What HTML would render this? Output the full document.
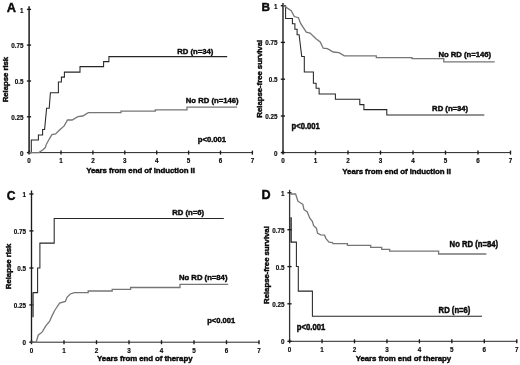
<!DOCTYPE html>
<html><head><meta charset="utf-8"><title>Figure</title>
<style>
html,body{margin:0;padding:0;background:#fff;}
body{width:520px;height:365px;overflow:hidden;}
svg{display:block;position:absolute;left:0;top:0;will-change:transform;}
svg text{font-family:"Liberation Sans",sans-serif;font-weight:bold;fill:#0a0a0a;stroke:#0a0a0a;stroke-width:0.42px;stroke-linejoin:round;}
svg text.t{stroke-width:0.15px;}
</style></head><body>
<svg width="520" height="365" viewBox="0 0 520 365">
<rect width="520" height="365" fill="#fff"/>
<line x1="29.1" y1="6.3" x2="29.1" y2="153.6" stroke="#1a1a1a" stroke-width="1.5"/>
<line x1="28.1" y1="152.6" x2="253.0" y2="152.6" stroke="#1a1a1a" stroke-width="0.95"/>
<line x1="29.10" y1="150.6" x2="29.10" y2="154.6" stroke="#1a1a1a" stroke-width="1.35"/>
<text x="29.10" y="163.2" font-size="6.3" class="t" text-anchor="middle">0</text>
<line x1="61.00" y1="150.6" x2="61.00" y2="154.6" stroke="#1a1a1a" stroke-width="1.35"/>
<text x="61.00" y="163.2" font-size="6.3" class="t" text-anchor="middle">1</text>
<line x1="92.90" y1="150.6" x2="92.90" y2="154.6" stroke="#1a1a1a" stroke-width="1.35"/>
<text x="92.90" y="163.2" font-size="6.3" class="t" text-anchor="middle">2</text>
<line x1="124.80" y1="150.6" x2="124.80" y2="154.6" stroke="#1a1a1a" stroke-width="1.35"/>
<text x="124.80" y="163.2" font-size="6.3" class="t" text-anchor="middle">3</text>
<line x1="156.70" y1="150.6" x2="156.70" y2="154.6" stroke="#1a1a1a" stroke-width="1.35"/>
<text x="156.70" y="163.2" font-size="6.3" class="t" text-anchor="middle">4</text>
<line x1="188.60" y1="150.6" x2="188.60" y2="154.6" stroke="#1a1a1a" stroke-width="1.35"/>
<text x="188.60" y="163.2" font-size="6.3" class="t" text-anchor="middle">5</text>
<line x1="220.50" y1="150.6" x2="220.50" y2="154.6" stroke="#1a1a1a" stroke-width="1.35"/>
<text x="220.50" y="163.2" font-size="6.3" class="t" text-anchor="middle">6</text>
<line x1="252.40" y1="150.6" x2="252.40" y2="154.6" stroke="#1a1a1a" stroke-width="1.35"/>
<text x="252.40" y="163.2" font-size="6.3" class="t" text-anchor="middle">7</text>
<line x1="26.900000000000002" y1="9.4" x2="31.1" y2="9.4" stroke="#1a1a1a" stroke-width="1.35"/>
<text x="23.5" y="12.6" font-size="6.3" class="t" text-anchor="end">1</text>
<line x1="26.900000000000002" y1="45.1" x2="31.1" y2="45.1" stroke="#1a1a1a" stroke-width="1.35"/>
<text x="23.5" y="48.300000000000004" font-size="6.3" class="t" text-anchor="end">0.75</text>
<line x1="26.900000000000002" y1="81" x2="31.1" y2="81" stroke="#1a1a1a" stroke-width="1.35"/>
<text x="23.5" y="84.19999999999999" font-size="6.3" class="t" text-anchor="end">0.5</text>
<line x1="26.900000000000002" y1="116.8" x2="31.1" y2="116.8" stroke="#1a1a1a" stroke-width="1.35"/>
<text x="23.5" y="119.99999999999999" font-size="6.3" class="t" text-anchor="end">0.25</text>
<line x1="26.900000000000002" y1="152.6" x2="31.1" y2="152.6" stroke="#1a1a1a" stroke-width="1.35"/>
<text x="23.5" y="155.79999999999998" font-size="6.3" class="t" text-anchor="end">0</text>
<path d="M29.3,152.6 L31.3,152.6 L31.3,139.9 L38.4,139.9 L38.4,135.0 L42.6,135.0 L42.6,129.4 L44.6,129.4 L46.6,108.2 L49.2,108.2 L50.4,92.8 L58.4,92.8 L58.4,82.0 L61.4,82.0 L61.4,77.1 L64.4,77.1 L64.4,72.1 L80.0,72.1 L80.0,66.6 L103.6,66.6 L103.6,61.6 L108.9,61.6 L108.9,56.6 L227.2,56.6" fill="none" stroke="#262626" stroke-width="1.05"/>
<path d="M29.3,152.6 L38.9,152.6 L43.2,149.5 L45.3,147.6 L46.3,144.4 L49.4,138.8 L51.9,134.6 L55.6,133.9 L59.3,130.2 L64.2,125.9 L67.5,120.0 L72.2,120.0 L77.8,116.6 L82.7,116.0 L88.3,112.6 L121.0,112.6 L121.0,111.1 L155.3,111.1 L155.3,109.8 L187.0,109.8 L187.0,107.2 L237.0,107.2" fill="none" stroke="#767676" stroke-width="1.3"/>
<text x="6.8" y="11.6" font-size="12.8">A</text>
<text transform="translate(177.30,54.10) scale(1,1.0)" font-size="7.7">RD (n=34)</text>
<text transform="translate(185.80,102.50) scale(1,1.0)" font-size="7.7">No RD (n=146)</text>
<text transform="translate(197.70,141.90) scale(1,1.0)" font-size="7.7">p&lt;0.001</text>
<text x="140.5" y="173.4" font-size="7.9" letter-spacing="-0.08" text-anchor="middle">Years from end of induction II</text>
<text transform="translate(8.2,79.6) rotate(-90)" font-size="7.9" letter-spacing="-0.08" text-anchor="middle">Relapse risk</text>
<line x1="283.0" y1="3.1" x2="283.0" y2="153.6" stroke="#1a1a1a" stroke-width="1.4"/>
<line x1="282.0" y1="152.6" x2="511.0" y2="152.6" stroke="#1a1a1a" stroke-width="0.95"/>
<line x1="283.00" y1="150.6" x2="283.00" y2="154.6" stroke="#1a1a1a" stroke-width="1.35"/>
<text x="283.00" y="163.2" font-size="6.3" class="t" text-anchor="middle">0</text>
<line x1="315.50" y1="150.6" x2="315.50" y2="154.6" stroke="#1a1a1a" stroke-width="1.35"/>
<text x="315.50" y="163.2" font-size="6.3" class="t" text-anchor="middle">1</text>
<line x1="348.00" y1="150.6" x2="348.00" y2="154.6" stroke="#1a1a1a" stroke-width="1.35"/>
<text x="348.00" y="163.2" font-size="6.3" class="t" text-anchor="middle">2</text>
<line x1="380.50" y1="150.6" x2="380.50" y2="154.6" stroke="#1a1a1a" stroke-width="1.35"/>
<text x="380.50" y="163.2" font-size="6.3" class="t" text-anchor="middle">3</text>
<line x1="413.00" y1="150.6" x2="413.00" y2="154.6" stroke="#1a1a1a" stroke-width="1.35"/>
<text x="413.00" y="163.2" font-size="6.3" class="t" text-anchor="middle">4</text>
<line x1="445.50" y1="150.6" x2="445.50" y2="154.6" stroke="#1a1a1a" stroke-width="1.35"/>
<text x="445.50" y="163.2" font-size="6.3" class="t" text-anchor="middle">5</text>
<line x1="478.00" y1="150.6" x2="478.00" y2="154.6" stroke="#1a1a1a" stroke-width="1.35"/>
<text x="478.00" y="163.2" font-size="6.3" class="t" text-anchor="middle">6</text>
<line x1="510.50" y1="150.6" x2="510.50" y2="154.6" stroke="#1a1a1a" stroke-width="1.35"/>
<text x="510.50" y="163.2" font-size="6.3" class="t" text-anchor="middle">7</text>
<line x1="280.8" y1="5.7" x2="285.0" y2="5.7" stroke="#1a1a1a" stroke-width="1.35"/>
<text x="277.4" y="8.700000000000001" font-size="6.3" class="t" text-anchor="end">1</text>
<line x1="280.8" y1="42.4" x2="285.0" y2="42.4" stroke="#1a1a1a" stroke-width="1.35"/>
<text x="277.4" y="45.4" font-size="6.3" class="t" text-anchor="end">0.75</text>
<line x1="280.8" y1="79.2" x2="285.0" y2="79.2" stroke="#1a1a1a" stroke-width="1.35"/>
<text x="277.4" y="82.2" font-size="6.3" class="t" text-anchor="end">0.5</text>
<line x1="280.8" y1="116" x2="285.0" y2="116" stroke="#1a1a1a" stroke-width="1.35"/>
<text x="277.4" y="119.0" font-size="6.3" class="t" text-anchor="end">0.25</text>
<line x1="280.8" y1="152.6" x2="285.0" y2="152.6" stroke="#1a1a1a" stroke-width="1.35"/>
<text x="277.4" y="155.6" font-size="6.3" class="t" text-anchor="end">0</text>
<path d="M283.3,5.7 L285.6,5.7 L285.6,18.5 L292.4,18.5 L292.4,23.8 L294.9,23.8 L294.9,29.2 L297.1,29.2 L297.1,34.8 L299.1,34.8 L301.7,56.4 L304.3,56.4 L304.3,72.0 L313.4,72.0 L313.4,83.3 L316.1,83.3 L316.1,88.3 L319.1,88.3 L319.1,93.9 L335.4,93.9 L335.4,99.2 L359.8,99.2 L359.8,104.6 L363.9,104.6 L363.9,109.6 L386.8,109.6 L386.8,115.0 L484.3,115.0" fill="none" stroke="#262626" stroke-width="1.05"/>
<path d="M283.3,5.4 L291.2,10.8 L294.3,16.5 L298.4,17.7 L300.6,23.4 L306.3,32.2 L310.1,33.0 L315.7,38.5 L320.2,42.0 L323.2,48.2 L327.4,48.7 L333.3,52.0 L339.0,52.7 L344.3,55.9 L376.3,55.9 L376.3,57.7 L412.0,57.7 L412.0,58.7 L443.8,58.7 L443.8,61.8 L494.7,61.8" fill="none" stroke="#767676" stroke-width="1.3"/>
<text x="261.6" y="10.8" font-size="11.8">B</text>
<text transform="translate(432.10,111.20) scale(1,1.05)" font-size="7.7">RD (n=34)</text>
<text transform="translate(438.40,56.70) scale(1,1.05)" font-size="7.7">No RD (n=146)</text>
<text transform="translate(291.60,128.70) scale(1,1.1)" font-size="7.65">p&lt;0.001</text>
<text x="396.6" y="173.6" font-size="7.9" letter-spacing="-0.08" text-anchor="middle">Years from end of induction II</text>
<text transform="translate(261.5,78.8) rotate(-90)" font-size="7.9" letter-spacing="-0.08" text-anchor="middle">Relapse-free survival</text>
<line x1="31.5" y1="190.5" x2="31.5" y2="343.2" stroke="#1a1a1a" stroke-width="1.35"/>
<line x1="30.5" y1="342.2" x2="259.3" y2="342.2" stroke="#1a1a1a" stroke-width="0.95"/>
<line x1="31.50" y1="340.2" x2="31.50" y2="344.2" stroke="#1a1a1a" stroke-width="1.35"/>
<text x="31.50" y="352.8" font-size="6.3" class="t" text-anchor="middle">0</text>
<line x1="64.00" y1="340.2" x2="64.00" y2="344.2" stroke="#1a1a1a" stroke-width="1.35"/>
<text x="64.00" y="352.8" font-size="6.3" class="t" text-anchor="middle">1</text>
<line x1="96.50" y1="340.2" x2="96.50" y2="344.2" stroke="#1a1a1a" stroke-width="1.35"/>
<text x="96.50" y="352.8" font-size="6.3" class="t" text-anchor="middle">2</text>
<line x1="129.00" y1="340.2" x2="129.00" y2="344.2" stroke="#1a1a1a" stroke-width="1.35"/>
<text x="129.00" y="352.8" font-size="6.3" class="t" text-anchor="middle">3</text>
<line x1="161.50" y1="340.2" x2="161.50" y2="344.2" stroke="#1a1a1a" stroke-width="1.35"/>
<text x="161.50" y="352.8" font-size="6.3" class="t" text-anchor="middle">4</text>
<line x1="194.00" y1="340.2" x2="194.00" y2="344.2" stroke="#1a1a1a" stroke-width="1.35"/>
<text x="194.00" y="352.8" font-size="6.3" class="t" text-anchor="middle">5</text>
<line x1="226.50" y1="340.2" x2="226.50" y2="344.2" stroke="#1a1a1a" stroke-width="1.35"/>
<text x="226.50" y="352.8" font-size="6.3" class="t" text-anchor="middle">6</text>
<line x1="259.00" y1="340.2" x2="259.00" y2="344.2" stroke="#1a1a1a" stroke-width="1.35"/>
<text x="259.00" y="352.8" font-size="6.3" class="t" text-anchor="middle">7</text>
<line x1="29.3" y1="194.0" x2="33.5" y2="194.0" stroke="#1a1a1a" stroke-width="1.35"/>
<text x="26" y="197.2" font-size="6.3" class="t" text-anchor="end">1</text>
<line x1="29.3" y1="230.9" x2="33.5" y2="230.9" stroke="#1a1a1a" stroke-width="1.35"/>
<text x="26" y="234.1" font-size="6.3" class="t" text-anchor="end">0.75</text>
<line x1="29.3" y1="268" x2="33.5" y2="268" stroke="#1a1a1a" stroke-width="1.35"/>
<text x="26" y="271.20000000000005" font-size="6.3" class="t" text-anchor="end">0.5</text>
<line x1="29.3" y1="304.9" x2="33.5" y2="304.9" stroke="#1a1a1a" stroke-width="1.35"/>
<text x="26" y="308.1" font-size="6.3" class="t" text-anchor="end">0.25</text>
<line x1="29.3" y1="342.2" x2="33.5" y2="342.2" stroke="#1a1a1a" stroke-width="1.35"/>
<text x="26" y="345.40000000000003" font-size="6.3" class="t" text-anchor="end">0</text>
<path d="M33.0,292.6 L37.6,292.6 L37.6,268.0 L39.9,268.0 L39.9,243.1 L54.2,243.1 L54.2,218.5 L223.8,218.5" fill="none" stroke="#262626" stroke-width="1.05"/>
<path d="M31.5,342.2 L36.2,342.2 L38.2,335.2 L42.3,331.9 L45.6,326.1 L49.7,321.2 L52.2,315.4 L54.7,310.5 L56.3,308.0 L59.6,303.1 L65.4,301.4 L67.0,297.3 L70.3,294.0 L74.4,292.6 L88.2,292.6 L88.2,291.0 L112.2,291.0 L112.2,289.4 L130.6,289.4 L130.6,287.5 L180.0,287.5 L180.0,284.4 L228.2,284.4" fill="none" stroke="#767676" stroke-width="1.3"/>
<text x="6.7" y="199.6" font-size="12.1">C</text>
<text transform="translate(172.20,214.80) scale(1,0.98)" font-size="7.7">RD (n=6)</text>
<text transform="translate(179.00,279.60) scale(1,1.05)" font-size="7.7">No RD (n=84)</text>
<text transform="translate(207.20,323.20) scale(1,1.05)" font-size="7.6">p&lt;0.001</text>
<text x="144.8" y="360.7" font-size="7.9" letter-spacing="-0.08" text-anchor="middle">Years from end of therapy</text>
<text transform="translate(10.6,266.4) rotate(-90)" font-size="7.9" letter-spacing="-0.08" text-anchor="middle">Relapse risk</text>
<line x1="33.0" y1="292.2" x2="33.0" y2="317.2" stroke="#4a4a4a" stroke-width="1.5"/>
<line x1="291.1" y1="217.3" x2="291.1" y2="242.5" stroke="#4a4a4a" stroke-width="1.7"/>
<line x1="289.6" y1="189.8" x2="289.6" y2="342.3" stroke="#333" stroke-width="1.3"/>
<line x1="288.6" y1="341.3" x2="517.3" y2="341.3" stroke="#1a1a1a" stroke-width="0.95"/>
<line x1="289.60" y1="339.3" x2="289.60" y2="343.3" stroke="#1a1a1a" stroke-width="1.35"/>
<text x="289.60" y="351.90000000000003" font-size="6.3" class="t" text-anchor="middle">0</text>
<line x1="322.05" y1="339.3" x2="322.05" y2="343.3" stroke="#1a1a1a" stroke-width="1.35"/>
<text x="322.05" y="351.90000000000003" font-size="6.3" class="t" text-anchor="middle">1</text>
<line x1="354.50" y1="339.3" x2="354.50" y2="343.3" stroke="#1a1a1a" stroke-width="1.35"/>
<text x="354.50" y="351.90000000000003" font-size="6.3" class="t" text-anchor="middle">2</text>
<line x1="386.95" y1="339.3" x2="386.95" y2="343.3" stroke="#1a1a1a" stroke-width="1.35"/>
<text x="386.95" y="351.90000000000003" font-size="6.3" class="t" text-anchor="middle">3</text>
<line x1="419.40" y1="339.3" x2="419.40" y2="343.3" stroke="#1a1a1a" stroke-width="1.35"/>
<text x="419.40" y="351.90000000000003" font-size="6.3" class="t" text-anchor="middle">4</text>
<line x1="451.85" y1="339.3" x2="451.85" y2="343.3" stroke="#1a1a1a" stroke-width="1.35"/>
<text x="451.85" y="351.90000000000003" font-size="6.3" class="t" text-anchor="middle">5</text>
<line x1="484.30" y1="339.3" x2="484.30" y2="343.3" stroke="#1a1a1a" stroke-width="1.35"/>
<text x="484.30" y="351.90000000000003" font-size="6.3" class="t" text-anchor="middle">6</text>
<line x1="516.75" y1="339.3" x2="516.75" y2="343.3" stroke="#1a1a1a" stroke-width="1.35"/>
<text x="516.75" y="351.90000000000003" font-size="6.3" class="t" text-anchor="middle">7</text>
<line x1="287.40000000000003" y1="192.8" x2="291.6" y2="192.8" stroke="#1a1a1a" stroke-width="1.35"/>
<text x="284.6" y="195.8" font-size="6.3" class="t" text-anchor="end">1</text>
<line x1="287.40000000000003" y1="229.7" x2="291.6" y2="229.7" stroke="#1a1a1a" stroke-width="1.35"/>
<text x="284.6" y="232.7" font-size="6.3" class="t" text-anchor="end">0.75</text>
<line x1="287.40000000000003" y1="266.6" x2="291.6" y2="266.6" stroke="#1a1a1a" stroke-width="1.35"/>
<text x="284.6" y="269.6" font-size="6.3" class="t" text-anchor="end">0.5</text>
<line x1="287.40000000000003" y1="303.8" x2="291.6" y2="303.8" stroke="#1a1a1a" stroke-width="1.35"/>
<text x="284.6" y="306.8" font-size="6.3" class="t" text-anchor="end">0.25</text>
<line x1="287.40000000000003" y1="341.3" x2="291.6" y2="341.3" stroke="#1a1a1a" stroke-width="1.35"/>
<text x="284.6" y="344.3" font-size="6.3" class="t" text-anchor="end">0</text>
<path d="M291.0,242.1 L296.4,242.1 L296.4,266.4 L298.3,266.4 L298.3,291.1 L312.4,291.1 L312.4,316.3 L482.0,316.3" fill="none" stroke="#262626" stroke-width="1.05"/>
<path d="M290.3,194.0 L295.6,194.0 L297.9,201.2 L302.9,204.4 L303.9,209.4 L307.3,211.9 L309.8,218.2 L312.3,221.4 L313.6,225.7 L316.4,228.2 L317.6,233.3 L320.8,234.9 L324.6,235.2 L325.8,238.3 L329.0,242.1 L332.5,242.5 L333.0,243.7 L347.4,243.7 L347.4,245.4 L370.7,245.4 L370.7,247.3 L381.7,247.3 L381.7,249.4 L389.7,249.4 L389.7,251.2 L438.6,251.2 L438.6,254.0 L486.4,254.0" fill="none" stroke="#767676" stroke-width="1.3"/>
<text x="261.6" y="199.4" font-size="12.6">D</text>
<text transform="translate(438.60,313.00) scale(1,1.12)" font-size="7.7">RD (n=6)</text>
<text transform="translate(449.60,246.50) scale(1,1.12)" font-size="7.7">No RD (n=84)</text>
<text transform="translate(296.80,329.60) scale(1,1.12)" font-size="7.7">p&lt;0.001</text>
<text x="403.4" y="361.4" font-size="7.9" letter-spacing="-0.08" text-anchor="middle">Years from end of therapy</text>
<text transform="translate(269.3,265.1) rotate(-90)" font-size="7.9" letter-spacing="-0.08" text-anchor="middle">Relapse-free survival</text>
</svg>
</body></html>
